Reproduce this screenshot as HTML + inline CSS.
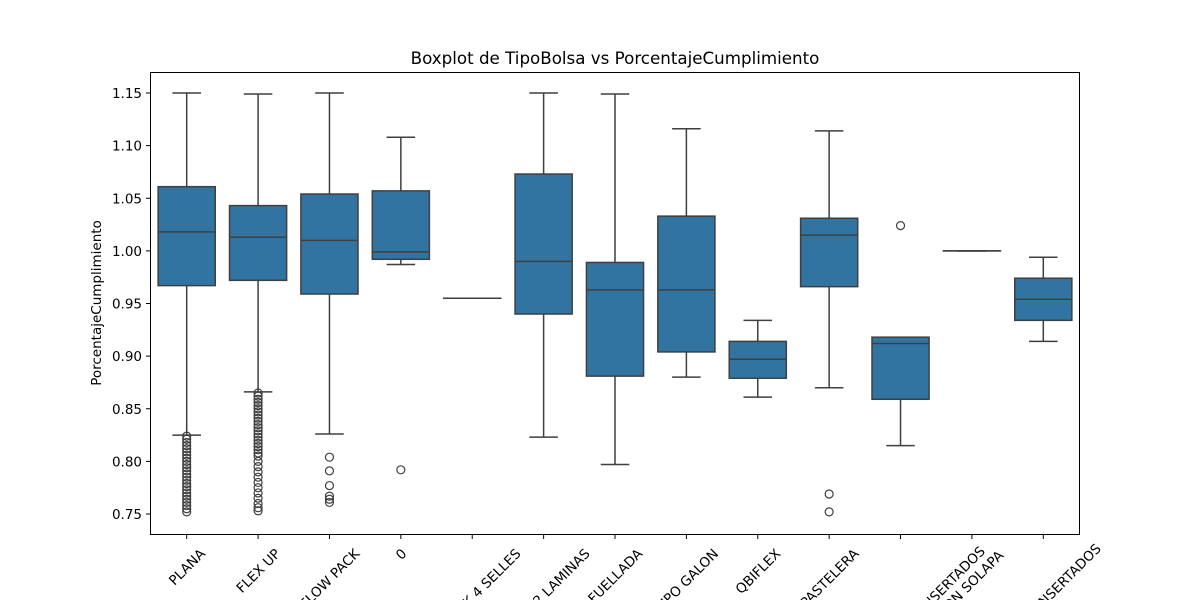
<!DOCTYPE html>
<html><head><meta charset="utf-8"><style>
html,body{margin:0;padding:0;background:#fff;overflow:hidden;width:1200px;height:600px;}
svg{display:block;font-family:"DejaVu Sans","Liberation Sans",sans-serif;}
</style></head><body>
<svg id="chart" width="1200" height="600" viewBox="0 0 1200 600">
<text x="615" y="64" text-anchor="middle" font-size="16.7" fill="#000">Boxplot de TipoBolsa vs PorcentajeCumplimiento</text>
<text transform="translate(101,303) rotate(-90)" text-anchor="middle" font-size="13.5" fill="#000">PorcentajeCumplimiento</text>
<g id="marks"></g>
<g id="axes"></g>
<rect x="150.5" y="72.5" width="929" height="462" fill="none" stroke="#000" stroke-width="1"/>
</svg>
<script>
const categories = ["PLANA","FLEX UP","FLOW PACK","0","DOYPACK 4 SELLES","BOLSA 2 LAMINAS","FUELLADA","TIPO GALON","QBIFLEX","PASTELERA","","INSERTADOS\nCON SOLAPA","BOLSA CON INSERTADOS"];
const labels = categories;
const whisLo = [0.825,0.866,0.826,0.987,0.955,0.823,0.797,0.880,0.861,0.870,0.815,1.000,0.914];
const q1s    = [0.967,0.972,0.959,0.992,0.955,0.940,0.881,0.904,0.879,0.966,0.859,1.000,0.934];
const medians= [1.018,1.013,1.010,0.999,0.955,0.990,0.963,0.963,0.897,1.015,0.912,1.000,0.954];
const q3s    = [1.061,1.043,1.054,1.057,0.955,1.073,0.989,1.033,0.914,1.031,0.918,1.000,0.974];
const whisHi = [1.150,1.149,1.150,1.108,0.955,1.150,1.149,1.116,0.934,1.114,0.917,1.000,0.994];
const outliers = [
 [0.824,0.821,0.818,0.815,0.812,0.809,0.806,0.803,0.800,0.797,0.794,0.791,0.788,0.785,0.782,0.779,0.776,0.773,0.770,0.767,0.764,0.761,0.758,0.755,0.752],
 [0.865,0.862,0.859,0.856,0.853,0.850,0.847,0.844,0.841,0.838,0.835,0.832,0.829,0.826,0.823,0.820,0.817,0.814,0.811,0.808,0.805,0.800,0.795,0.790,0.785,0.780,0.775,0.770,0.765,0.760,0.756,0.753],
 [0.804,0.791,0.777,0.767,0.764,0.761],
 [0.792],[],[],[],[],[],
 [0.769,0.752],
 [1.024],[],[]
];
const yTicks = [0.75,0.80,0.85,0.90,0.95,1.00,1.05,1.10,1.15];

const NS="http://www.w3.org/2000/svg";
const X0=151,X1=1079,n=labels.length,band=(X1-X0)/n;
const xPos=i=>X0+band*(i+0.5);
const yPos=v=>514-(v-0.75)*1052.5;
const marks=document.getElementById('marks'),axes=document.getElementById('axes');
function mk(tag,at,parent){const e=document.createElementNS(NS,tag);for(const k in at)e.setAttribute(k,at[k]);parent.appendChild(e);return e;}
const lc="#3f3f3f",bw=band*0.8;
for(let i=0;i<n;i++){
  const cx=xPos(i);
  const g=mk('g',{},marks);
  
  
  mk('line',{x1:cx,x2:cx,y1:yPos(whisHi[i]),y2:yPos(q3s[i]),stroke:lc,'stroke-width':1.5},g);
  mk('line',{x1:cx,x2:cx,y1:yPos(q1s[i]),y2:yPos(whisLo[i]),stroke:lc,'stroke-width':1.5},g);
  mk('line',{x1:cx-bw/4,x2:cx+bw/4,y1:yPos(whisHi[i]),y2:yPos(whisHi[i]),stroke:lc,'stroke-width':1.5},g);
  mk('line',{x1:cx-bw/4,x2:cx+bw/4,y1:yPos(whisLo[i]),y2:yPos(whisLo[i]),stroke:lc,'stroke-width':1.5},g);
  const t=yPos(q3s[i]),b=yPos(q1s[i]);
  mk('rect',{x:cx-bw/2,y:t,width:bw,height:Math.max(b-t,0.01),fill:'#3274a1',stroke:lc,'stroke-width':1.5},g);
  mk('line',{x1:cx-bw/2,x2:cx+bw/2,y1:yPos(medians[i]),y2:yPos(medians[i]),stroke:lc,'stroke-width':1.5},g);
  for(const v of outliers[i]){
    const c=mk('circle',{cx:cx,cy:yPos(v),r:4,fill:'none',stroke:lc,'stroke-width':1.2},g);
    
    
  }
}
for(const v of yTicks){
  const y=yPos(v);
  mk('line',{x1:146,x2:150,y1:y,y2:y,stroke:'#000'},axes);
  const t=mk('text',{x:142,y:y+5,'text-anchor':'end','font-size':13.5,fill:'#000'},axes);
  t.textContent=v.toFixed(2);
  
  
}
for(let i=0;i<n;i++){
  const x=xPos(i);
  mk('line',{x1:x,x2:x,y1:535,y2:539,stroke:'#000'},axes);
  const lines=labels[i].split('\n');
  const L=lines.length,lh=16;
  let t;
  if(L>1){
    t=mk('text',{'text-anchor':'end','font-size':13.5,fill:'#000',transform:`translate(${x+14},552) rotate(-45)`},axes);
    lines.forEach((ln,k)=>{const s=mk('tspan',{x:k*10,y:k*lh},t);s.textContent=ln;});
  } else {
    t=mk('text',{'text-anchor':'middle','font-size':13.5,fill:'#000'},axes);
    const s=mk('tspan',{x:0,y:5},t);s.textContent=lines[0];
    const W=s.getComputedTextLength();
    const bh=(W+14)*0.7071;
    let ox=0,oy=0;
    if(i===n-1){ox=-5;oy=-5;}
    t.setAttribute('transform',`translate(${x+ox},${546+bh/2+oy}) rotate(-45)`);
  }
  
  
}
</script>
</body></html>
